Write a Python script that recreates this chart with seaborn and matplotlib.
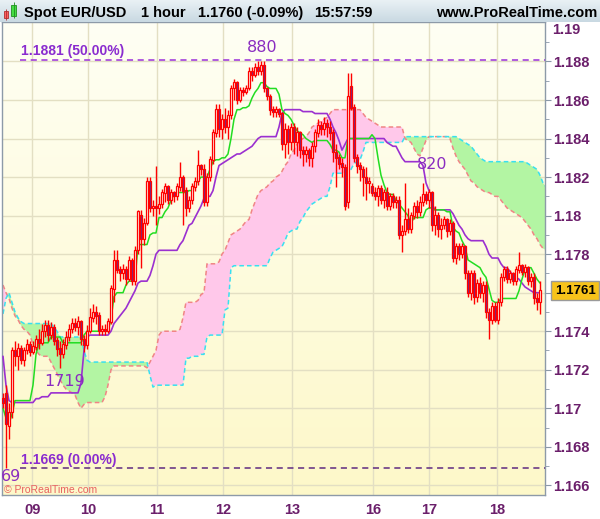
import matplotlib
matplotlib.use("Agg")
import matplotlib.pyplot as plt
import matplotlib.transforms as mtrans
from matplotlib.colors import LinearSegmentedColormap
from matplotlib.patches import Rectangle
import numpy as np
import pandas as pd
import seaborn as sns

# all prices below are in pips above 1.1700 (1 pip = 0.0001)
base = 1.17
opens = [5, 8, -9, -2, 30, 27, 31, 25, 30, 33,
         29, 32, 36, 34, 40, 43, 38, 42, 35, 31,
         28, 33, 37, 41, 44, 42, 45, 36, 33, 40,
         47, 50, 48, 40, 41, 40, 45, 62, 77, 72,
         70, 72, 67, 77, 66, 82, 100, 88, 96, 118,
         104, 105, 104, 106, 112, 115, 108, 112, 110, 115,
         120, 113, 104, 108, 115, 118, 126, 124, 107, 120,
         129, 143, 155, 145, 150, 146, 152, 166, 169, 160,
         165, 164, 166, 175, 173, 177, 175, 178, 166, 162,
         155, 154, 155, 153, 137, 145, 138, 146, 138, 143,
         134, 132, 134, 130, 136, 143, 147, 145, 148, 146,
         143, 133, 130, 127, 125, 107, 167, 156, 130, 126,
         124, 120, 117, 115, 112, 110, 114, 108, 112, 105,
         110, 107, 108, 90, 92, 98, 93, 100, 105, 102,
         107, 111, 108, 112, 95, 100, 93, 95, 98, 92,
         96, 78, 84, 80, 84, 70, 60, 70, 58, 65,
         60, 64, 50, 46, 53, 46, 55, 68, 72, 67,
         70, 66, 72, 74, 71, 73, 66, 68, 57, 55]
closes = [3, -8, -2, 30, 27, 31, 25, 30, 33, 29,
          32, 36, 34, 40, 43, 38, 42, 35, 31, 28,
          33, 37, 41, 44, 42, 45, 36, 33, 40, 47,
          50, 48, 40, 41, 40, 45, 62, 77, 72, 70,
          72, 67, 77, 66, 82, 102, 88, 96, 118, 104,
          105, 104, 106, 112, 115, 108, 112, 110, 115, 120,
          113, 104, 108, 115, 118, 126, 124, 107, 120, 129,
          143, 155, 145, 150, 146, 152, 166, 169, 160, 165,
          164, 166, 175, 173, 177, 175, 178, 166, 162, 155,
          154, 155, 153, 137, 145, 138, 146, 138, 143, 134,
          132, 134, 130, 136, 143, 147, 145, 148, 146, 143,
          133, 130, 127, 125, 105, 162, 156, 130, 126, 124,
          120, 117, 118, 112, 110, 114, 108, 112, 105, 110,
          107, 108, 90, 92, 98, 93, 100, 105, 102, 107,
          111, 108, 112, 95, 100, 93, 95, 98, 92, 96,
          78, 84, 80, 84, 70, 60, 70, 58, 65, 60,
          64, 50, 46, 53, 46, 55, 68, 72, 67, 70,
          66, 72, 74, 71, 73, 66, 68, 57, 55, 61]
highs = [8, 12, 3, 32, 35, 34, 33, 32, 36, 35,
         35, 38, 41, 44, 46, 46, 45, 44, 37, 35,
         36, 40, 44, 47, 47, 48, 46, 38, 43, 52,
         54, 53, 50, 43, 44, 47, 64, 82, 82, 74,
         75, 74, 79, 78, 84, 103, 103, 99, 120, 120,
         108, 126, 110, 114, 117, 116, 114, 113, 117, 128,
         121, 115, 110, 117, 120, 134, 127, 127, 122, 131,
         145, 158, 158, 153, 156, 155, 168, 171, 170, 167,
         167, 168, 177, 177, 179, 180, 180, 180, 167, 163,
         157, 157, 156, 154, 148, 147, 148, 148, 146, 144,
         136, 136, 135, 138, 145, 150, 149, 151, 150, 149,
         145, 137, 132, 130, 127, 174, 174, 158, 132, 128,
         126, 125, 120, 117, 115, 116, 116, 114, 115, 112,
         112, 110, 110, 95, 117, 104, 102, 107, 108, 110,
         117, 113, 114, 113, 105, 102, 99, 100, 99, 98,
         97, 86, 86, 86, 85, 72, 72, 72, 67, 68,
         66, 66, 52, 55, 55, 57, 70, 74, 74, 72,
         71, 74, 81, 75, 75, 74, 70, 70, 60, 66]
lows = [0, -31, -16, -5, 22, 20, 23, 22, 28, 27,
        28, 30, 31, 33, 37, 35, 36, 33, 27, 21,
        26, 31, 35, 39, 40, 38, 33, 29, 31, 39,
        45, 44, 38, 38, 38, 39, 44, 55, 70, 66,
        67, 64, 66, 64, 64, 80, 73, 85, 95, 102,
        100, 95, 101, 104, 107, 106, 106, 107, 108, 113,
        95, 100, 102, 106, 113, 116, 121, 105, 105, 118,
        127, 141, 141, 140, 143, 140, 150, 160, 158, 159,
        162, 163, 165, 170, 172, 173, 173, 164, 160, 152,
        151, 151, 151, 134, 130, 132, 134, 132, 131, 130,
        126, 128, 126, 125, 133, 141, 142, 142, 141, 139,
        128, 115, 124, 120, 103, 104, 155, 128, 122, 118,
        110, 108, 112, 110, 108, 105, 106, 104, 103, 103,
        104, 104, 88, 81, 90, 91, 91, 98, 99, 100,
        105, 106, 104, 92, 90, 89, 88, 93, 89, 90,
        76, 75, 77, 78, 67, 58, 56, 54, 55, 57,
        55, 47, 36, 44, 45, 44, 53, 66, 65, 65,
        64, 64, 70, 69, 68, 64, 63, 54, 51, 49]
tenkan = [0, -5, -8, -3, 4, 4, 4, 4, 4, 4,
          12, 28, 34, 34, 34, 34, 37, 37, 37, 37,
          34, 34, 34, 34, 34, 34, 34, 38, 40, 40,
          40, 40, 40, 40, 40, 40, 46, 58, 60, 60,
          60, 64, 66, 66, 66, 85, 85, 85, 85, 90,
          91, 91, 99, 99, 102, 104, 108, 111, 112, 112,
          112, 112, 113, 113, 116, 118, 120, 120, 120, 124,
          128, 129, 129, 130, 130, 132, 140, 150, 155, 155,
          156, 156, 157, 161, 164, 166, 169, 169, 167, 166,
          166, 166, 163, 155, 153, 152, 150, 147, 144, 143,
          142, 140, 139, 138, 139, 139, 139, 139, 139, 137,
          134, 134, 133, 130, 130, 140, 140, 140, 140, 140,
          140, 140, 140, 142, 140, 130, 121, 116, 112, 111,
          111, 108, 106, 104, 102, 100, 96, 99, 99, 99,
          99, 103, 104, 104, 103, 103, 103, 103, 102, 102,
          94, 92, 91, 87, 84, 77, 76, 75, 74, 73,
          70, 68, 62, 56, 55, 55, 57, 57, 57, 57,
          57, 57, 61, 67, 72, 73, 73, 70, 67, 65]
kijun = [27, 12, 4, 3, 3, 3, 3, 3, 3, 3,
         3, 5, 5, 6, 6, 6, 8, 8, 8, 8,
         8, 8, 8, 8, 8, 8, 13, 30, 37, 38,
         38, 38, 38, 38, 38, 38, 40, 44, 46, 48,
         50, 52, 55, 58, 61, 65, 66, 66, 66, 69,
         74, 80, 82, 82, 82, 82, 82, 82, 82, 85,
         87, 91, 95, 96, 99, 102, 105, 109, 110, 110,
         113, 120, 126, 127, 128, 129, 130, 131, 132, 132,
         133, 134, 135, 136, 138, 140, 141, 141, 141, 141,
         141, 141, 146, 153, 155, 155, 155, 155, 155, 155,
         154, 154, 154, 154, 153, 153, 153, 153, 153, 150,
         146, 143, 139, 134, 137, 140, 140, 140, 140, 140,
         140, 140, 140, 140, 140, 140, 140, 140, 138, 137,
         136, 136, 133, 130, 128, 128, 128, 128, 128, 128,
         126, 117, 113, 106, 103, 103, 103, 103, 103, 103,
         101, 98, 95, 93, 90, 88, 87, 87, 87, 87,
         87, 84, 80, 78, 78, 78, 75, 73, 73, 71,
         69, 68, 67, 65, 63, 62, 61, 60, 60, 60]
span_cyan = [49, 57, 60, 55, 50, 47, 45, 44, 44, 44,
             44, 44, 44, 44, 44, 44, 44, 42, 40, 37,
             37, 37, 37, 37, 37, 37, 37, 30, 25, 24,
             24, 24, 24, 24, 24, 24, 24, 24, 24, 24,
             24, 24, 24, 24, 24, 24, 24, 24, 24, 17,
             11, 12, 12, 12, 12, 12, 12, 12, 12, 12,
             12, 26, 26, 27, 27, 27, 28, 28, 37, 38,
             38, 38, 38, 38, 51, 52, 73, 74, 74, 74,
             74, 74, 74, 74, 74, 74, 74, 74, 74, 78,
             81, 82, 83, 84, 87, 91, 92, 93, 93, 97,
             99, 102, 104, 106, 107, 108, 109, 110, 110, 115,
             122, 122, 122, 122, 122, 122, 124, 127, 128, 129,
             133, 138, 138, 138, 138, 138, 138, 138, 138, 138,
             138, 138, 138, 138, 141, 141, 141, 141, 141, 141,
             141, 141, 141, 141, 141, 141, 141, 141, 141, 141,
             141, 141, 140, 139, 138, 137, 136, 134, 132, 130,
             129, 128, 128, 128, 128, 128, 128, 128, 128, 128,
             128, 128, 128, 128, 128, 127, 126, 125, 124, 121,
             117, 115]
span_red = [64, 60, 57, 52, 48, 46, 43, 41, 40, 38,
            33, 30, 28, 27, 27, 27, 24, 21, 18, 15,
            12, 10, 9, 8, 7, 3, 0, 2, 3, 3,
            3, 3, 3, 3, 6, 12, 20, 22, 22, 22,
            22, 22, 22, 22, 22, 22, 22, 22, 21, 24,
            27, 30, 38, 40, 40, 40, 40, 40, 40, 41,
            47, 55, 55, 55, 55, 56, 59, 60, 75, 75,
            75, 75, 76, 80, 82, 86, 90, 91, 92, 93,
            95, 97, 98, 103, 107, 111, 113, 114, 115, 117,
            118, 120, 121, 123, 126, 128, 132, 134, 137, 139,
            140, 141, 143, 146, 147, 148, 149, 150, 151, 153,
            155, 155, 155, 155, 155, 155, 155, 155, 155, 155,
            153, 151, 150, 149, 148, 147, 146, 146, 146, 146,
            146, 146, 146, 146, 140, 139, 138, 135, 132, 131,
            135, 139, 141, 141, 141, 141, 141, 141, 141, 140,
            135, 131, 128, 126, 124, 121, 118, 117, 115, 114,
            113, 112, 112, 111, 110, 110, 108, 106, 104, 103,
            102, 101, 100, 99, 97, 95, 93, 90, 88, 85,
            83, 82]

day_pos = [9.7, 28.3, 51.3, 73.3, 96.3, 123.3, 142.0, 164.7]
day_labels = ["09", "10", "11", "12", "13", "16", "17", "18"]
price_ticks = [1.166, 1.168, 1.170, 1.172, 1.174, 1.176, 1.178,
               1.180, 1.182, 1.184, 1.186, 1.188]
# 1.176 is hidden behind the last-price box in the original
price_labels = ["1.166", "1.168", "1.17", "1.172", "1.174", "", "1.178",
                "1.18", "1.182", "1.184", "1.186", "1.188"]
minor_ticks = [1.167, 1.169, 1.171, 1.173, 1.175, 1.177, 1.179,
               1.181, 1.183, 1.185, 1.187, 1.189]
fib_levels = [1.1881, 1.1669]
fib_texts = ["1.1881 (50.00%)", "1.1669 (0.00%)"]
last_price = 1.1761

df = pd.DataFrame({"bar": np.arange(len(closes)),
                   "open": base + np.array(opens) / 1e4,
                   "close": base + np.array(closes) / 1e4,
                   "high": base + np.array(highs) / 1e4,
                   "low": base + np.array(lows) / 1e4,
                   "tenkan": base + np.array(tenkan) / 1e4,
                   "kijun": base + np.array(kijun) / 1e4})
cloud = pd.DataFrame({"bar": np.arange(len(span_red)),
                      "red": base + np.array(span_red) / 1e4,
                      "cyan": base + np.array(span_cyan) / 1e4})

sns.set_style("white")
plt.rcParams["font.family"] = ["Liberation Sans", "DejaVu Sans"]

purple = "#6b1f6b"
violet = "#8a2ccf"

fig = plt.figure(figsize=(6, 5.19), dpi=100)
ax = fig.add_axes([2 / 600, 24 / 519, 543 / 600, 473 / 519])

# soft yellow background
bg = LinearSegmentedColormap.from_list("bg", ["#fdf8c9", "#fffff4"])
ax.imshow(np.linspace(0, 1, 256).reshape(-1, 1), extent=[0, 1, 0, 1],
          transform=ax.transAxes, cmap=bg, aspect="auto", origin="lower", zorder=0)

# cloud
ax.fill_between(cloud.bar, cloud.red, cloud.cyan, where=cloud.red >= cloud.cyan,
                interpolate=True, color="#ffc8ea", lw=0, zorder=1)
ax.fill_between(cloud.bar, cloud.red, cloud.cyan, where=cloud.red < cloud.cyan,
                interpolate=True, color="#b3f5a3", lw=0, zorder=1)
sns.lineplot(data=cloud, x="bar", y="red", color="#f08585", lw=1.1,
             linestyle=(0, (3, 2)), ax=ax, zorder=2)
sns.lineplot(data=cloud, x="bar", y="cyan", color="#38e0f0", lw=1.1,
             linestyle=(0, (3, 2)), ax=ax, zorder=2)

# tenkan / kijun
sns.lineplot(data=df, x="bar", y="kijun", color="#9b30d0", lw=1.2, ax=ax, zorder=3)
sns.lineplot(data=df, x="bar", y="tenkan", color="#22dd22", lw=1.1, ax=ax, zorder=3)

# candles
up = df.close >= df.open
ax.vlines(df.bar, df.low, df.high, color="#ff0000", lw=1, zorder=4)
ax.bar(df.bar[up], (df.close - df.open)[up] + 0.00002, bottom=df.open[up], width=0.72,
       facecolor="#fffff2", edgecolor="#ff0000", lw=0.9, zorder=5)
ax.bar(df.bar[~up], (df.open - df.close)[~up] + 0.00002, bottom=df.close[~up], width=0.72,
       facecolor="#6a2c90", edgecolor="#ff0000", lw=0.9, zorder=5)

# fibonacci levels
ax.hlines(fib_levels[0], 5.7, 181, colors="#9b30d9", linestyles=(0, (4, 3)), lw=1.1, zorder=3)
ax.hlines(fib_levels[1], 5.7, 181, colors="#5e2a80", linestyles=(0, (4, 3)), lw=1.1, zorder=3)
ax.text(6.0, fib_levels[0] + 0.00006, fib_texts[0], color=violet, fontsize=10,
        fontweight="bold", va="bottom", ha="left", zorder=6)
ax.text(6.0, fib_levels[1] + 0.00006, fib_texts[1], color=violet, fontsize=10,
        fontweight="bold", va="bottom", ha="left", zorder=6)

# price annotations
for txt, xb, yp in [("880", 86.3, 1.18873), ("820", 143.0, 1.18263),
                    ("1719", 20.7, 1.17137), ("69", 2.7, 1.16645)]:
    ax.text(xb, yp, txt, color="#8a2cc0", fontsize=11.5, family="DejaVu Sans",
            ha="center", va="center", zorder=6)

ax.text(0.004, 0.0, "© ProRealTime.com", transform=ax.transAxes, color="#e86060",
        fontsize=7.5, ha="left", va="bottom", zorder=6)

ax.set_xticks(day_pos)
ax.set_xticklabels(day_labels)
ax.set_yticks(price_ticks)
ax.set_yticklabels(price_labels)
ax.set_yticks(minor_ticks, minor=True)
ax.set_xlim(-0.33, 180.67)
ax.set_ylim(1.1655, 1.19005)
ax.yaxis.tick_right()
ax.grid(True, which="major", color="#e3dfc3", lw=1)
ax.set_axisbelow(True)
ax.tick_params(axis="y", which="major", length=4, pad=1.5, color="#8a98a8",
               labelcolor=purple, labelsize=10.5)
ax.tick_params(axis="y", which="minor", length=3, color="#8a98a8")
ax.tick_params(axis="x", length=4, pad=1.5, color="#8a98a8", labelcolor=purple, labelsize=10.5)
for lab in ax.get_xticklabels() + ax.get_yticklabels():
    lab.set_fontweight("bold")
ax.set_xlabel("")
ax.set_ylabel("")
for sp in ax.spines.values():
    sp.set_color("#8d9aa8")
    sp.set_linewidth(1)

# 1.19 label at top and last price box
blend = mtrans.blended_transform_factory(ax.transAxes, ax.transData)
ax.text(1.013, 1.18963, "1.19", transform=blend, color=purple, fontsize=10.5,
        fontweight="bold", ha="left", va="center", clip_on=False)
ax.text(1.018, last_price, "1.1761", transform=blend, color="black", fontsize=9.5,
        fontweight="bold", ha="left", va="center", clip_on=False, zorder=10,
        bbox=dict(boxstyle="square,pad=0.25", fc="#f7c31a", ec="#9a9a9a", lw=1))

# header bar
hax = fig.add_axes([0, 497 / 519, 1, 22 / 519])
hbg = LinearSegmentedColormap.from_list("hbg", ["#c9d9e2", "#e9f1f5"])
hax.imshow(np.linspace(0, 1, 64).reshape(-1, 1), extent=[0, 600, 0, 22],
           cmap=hbg, aspect="auto", origin="lower")
hax.set_xlim(0, 600)
hax.set_ylim(0, 22)
hax.axis("off")
hax.add_patch(Rectangle((4, 4), 4, 7, fc="#ff6060", ec="#b03030", lw=0.6))
hax.vlines(6, 2, 13, color="#b03030", lw=0.6)
hax.add_patch(Rectangle((11, 6), 5, 11, fc="#44dd44", ec="#209020", lw=0.6))
hax.vlines(13.5, 4, 20, color="#209020", lw=0.6)
for txt, xp in [("Spot EUR/USD", 24), ("1 hour", 141), ("1.1760 (-0.09%)", 198),
                ("15:57:59", 314)]:
    hax.text(xp, 9, txt, fontsize=10.5, fontweight="bold", color="black",
             ha="left", va="center")
hax.text(597, 9, "www.ProRealTime.com", fontsize=10.5, fontweight="bold",
         color="black", ha="right", va="center")

fig.savefig("out.png", dpi=100, facecolor="white")
